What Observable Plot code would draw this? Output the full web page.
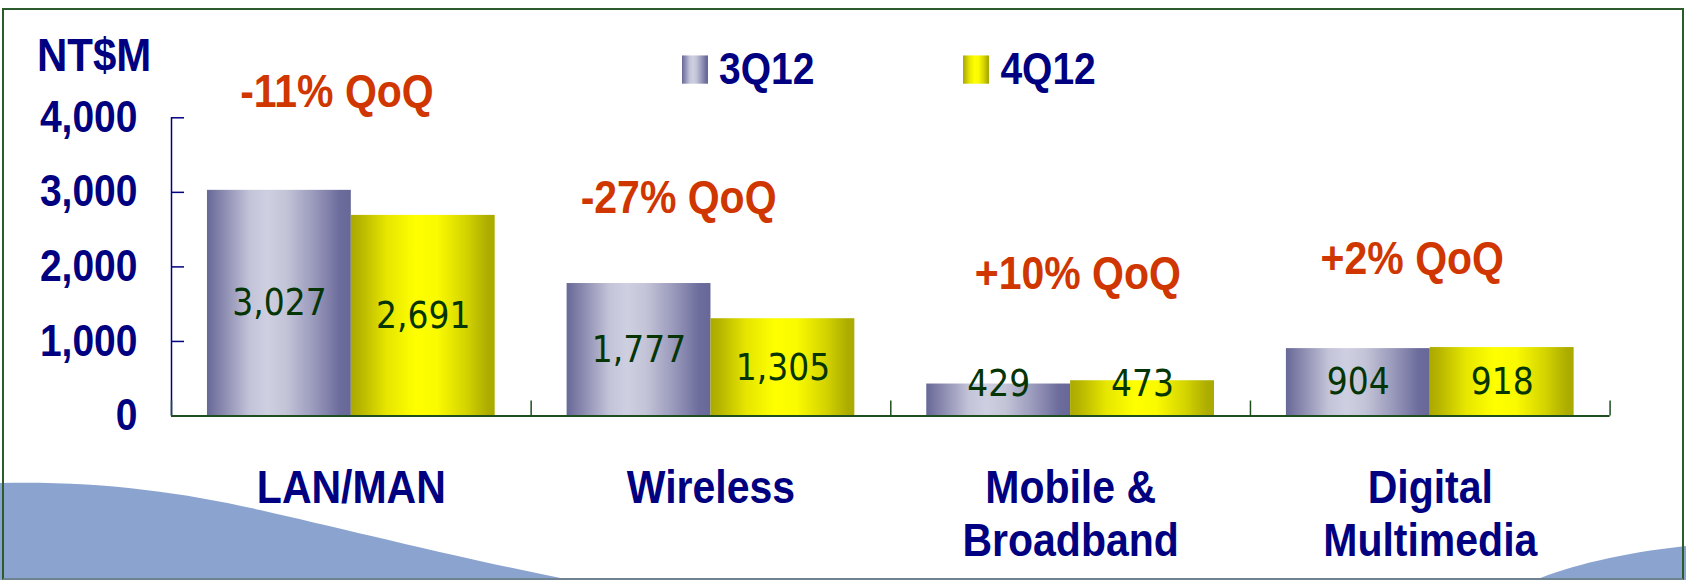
<!DOCTYPE html>
<html>
<head>
<meta charset="utf-8">
<script src="https://cdn.jsdelivr.net/npm/d3@7"></script>
<script src="https://cdn.jsdelivr.net/npm/@observablehq/plot@0.6"></script>
<style>
html, body { margin: 0; padding: 0; background: #fff; }
#wrap { position: relative; width: 1686px; height: 580px; overflow: hidden; background: #fff; }
#bg { position: absolute; left: 0; top: 0; }
#chart { position: absolute; left: 0; top: 0; }
#frame { position: absolute; left: 2px; top: 8px; width: 1682px; height: 572px; box-sizing: border-box;
  border: 2px solid #2c5c2c; border-bottom-color: #6f8290; pointer-events: none; }
#unit { position: absolute; left: 37px; top: 34px; font: bold 42px "Liberation Sans", Arial, sans-serif;
  color: #000080; line-height: 1; white-space: nowrap; transform: scaleY(1.12); transform-origin: 50% 50%; }
#legend { position: absolute; left: 682px; top: 47px; transform: scaleY(1.13); transform-origin: 0 22px; }
#legend .leg-swatches { font: bold 39px "Liberation Sans", Arial, sans-serif; color: #000080; margin: 0; min-height: 0; }
#legend .leg-swatch { margin-right: 149px; }
#legend .leg-swatch > svg { margin-right: 11px; }
</style>
</head>
<body>
<div id="wrap">
  <svg id="bg" width="1686" height="580">
    <defs>
      <linearGradient id="g3q12" x1="0" x2="1" y1="0" y2="0">
        <stop offset="0" stop-color="#686898"/>
        <stop offset="0.1" stop-color="#8686ad"/>
        <stop offset="0.3" stop-color="#c4c4d9"/>
        <stop offset="0.42" stop-color="#cfcfe2"/>
        <stop offset="0.55" stop-color="#c4c4d8"/>
        <stop offset="0.75" stop-color="#9898bb"/>
        <stop offset="0.92" stop-color="#6d6d9d"/>
        <stop offset="1" stop-color="#686898"/>
      </linearGradient>
      <linearGradient id="g4q12" x1="0" x2="1" y1="0" y2="0">
        <stop offset="0" stop-color="#aaaa00"/>
        <stop offset="0.06" stop-color="#b6b400"/>
        <stop offset="0.25" stop-color="#e6e600"/>
        <stop offset="0.45" stop-color="#ffff00"/>
        <stop offset="0.6" stop-color="#fafa00"/>
        <stop offset="0.8" stop-color="#d4d400"/>
        <stop offset="0.95" stop-color="#adad00"/>
        <stop offset="1" stop-color="#aaaa00"/>
      </linearGradient>
    </defs>
    <path d="M0,483 C100,481 180,492 260,510 S450,556 570,580 L0,580 Z" fill="#8ba3cf"/>
    <path d="M1535,580 C1570,566 1620,553 1686,546 L1686,580 Z" fill="#8ba3cf"/>
  </svg>
  <div id="chart"></div>
  <div id="frame"></div>
  <div id="unit"></div>
  <div id="legend"></div>
</div>
<script>
// ---- data ----
const categories = ["LAN/MAN", "Wireless", "Mobile &\nBroadband", "Digital\nMultimedia"];
const series = ["3Q12", "4Q12"];
const values3Q12 = [3027, 1777, 429, 904];
const values4Q12 = [2691, 1305, 473, 918];
const qoqLabels = ["-11% QoQ", "-27% QoQ", "+10% QoQ", "+2% QoQ"];
const qoqAnchorX = [-0.04, 0.91, 2.02, 2.95];   // category index units
const qoqAnchorY = [4346, 2924, 1898, 2099];    // NT$M units
const yTicks = [0, 1000, 2000, 3000, 4000];
const unitLabel = "NT$M";

// ---- tables ----
const rows = categories.flatMap((c, ci) => [
  {ci, si: 0, category: c, series: series[0], value: values3Q12[ci]},
  {ci, si: 1, category: c, series: series[1], value: values4Q12[ci]}
]);
const qoqRows = qoqLabels.map((t, i) => ({text: t, x: qoqAnchorX[i], y: qoqAnchorY[i]}));
const boundaries = d3.range(-0.5, categories.length, 1);
const catIdx = categories.map((c, i) => i);

const NAVY = "#000080", GREEN = "#1f4f1f", LABEL = "#053505", ORANGE = "#cf3600";
const BOLD = "Liberation Sans, Arial, sans-serif";
const fmt = d3.format(",");

const chart = Plot.plot({
  width: 1686,
  height: 580,
  marginLeft: 171,
  marginRight: 76.4,
  marginTop: 117.3,
  marginBottom: 164.5,
  style: {background: "transparent", fontFamily: BOLD, overflow: "visible"},
  x: {domain: [-0.5, categories.length - 0.5], axis: null, label: null},
  y: {domain: [0, 4000], axis: null, label: null},
  color: {domain: series, range: ["url(#g3q12)", "url(#g4q12)"]},
  marks: [
    Plot.rect(rows, {
      x1: d => d.ci + (d.si - 1) * 0.4,
      x2: d => d.ci + d.si * 0.4,
      y1: 0,
      y2: "value",
      fill: "series"
    }),
    Plot.ruleX([-0.5], {y1: 0, y2: 4000, stroke: NAVY, strokeWidth: 1.5}),
    Plot.axisY({
      ticks: yTicks, tickSize: -13, tickPadding: 47, tickFormat: fmt,
      stroke: NAVY, fill: NAVY, strokeWidth: 1.5,
      fontSize: 39, fontWeight: "bold", fontFamily: BOLD, label: null
    }),
    Plot.ruleY([0], {stroke: GREEN, strokeWidth: 2}),
    Plot.axisX({
      ticks: boundaries, tickSize: -15, stroke: GREEN, strokeWidth: 1.5,
      fill: "none", label: null
    }),
    Plot.axisX({
      ticks: catIdx, tickSize: 0, tickPadding: 48.5,
      tickFormat: i => categories[i],
      fill: NAVY, fontSize: 41, fontWeight: "bold", fontFamily: BOLD,
      lineHeight: 1.16, label: null
    }),
    Plot.text(rows, {
      x: d => d.ci + (d.si - 0.5) * 0.4,
      y: d => Math.max(d.value / 2, 436),
      text: d => fmt(d.value),
      fill: LABEL,
      fontSize: 33,
      fontFamily: "DejaVu Sans, Verdana, sans-serif"
    }),
    Plot.text(qoqRows, {
      x: "x", y: "y", text: "text",
      fill: ORANGE, fontSize: 41, fontWeight: "bold", fontFamily: BOLD
    })
  ]
});
document.getElementById("chart").appendChild(chart);

// the original slide's lettering is drawn slightly tall: stretch glyphs vertically about their anchors
const plainNumber = /^\s*-?[\d.]+(e-?\d+)?\s*$/i;
d3.select(chart).selectAll("text").each(function () {
  const el = this;
  const fam = el.getAttribute("font-family") || el.parentNode.getAttribute("font-family") || "";
  const k = /DejaVu/.test(fam) ? 1.15 : 1.13;
  let tx = 0, ty = 0;
  const xa = el.getAttribute("x"), ya = el.getAttribute("y");
  if (xa != null && plainNumber.test(xa)) { tx = +xa; el.removeAttribute("x"); }
  if (ya != null && plainNumber.test(ya)) { ty = +ya; el.removeAttribute("y"); }
  const t = el.getAttribute("transform") || "";
  el.setAttribute("transform", `${t} translate(${tx},${ty}) scale(1,${k})`);
});

const legend = chart.legend("color", {className: "leg", swatchWidth: 26, swatchHeight: 25});
document.getElementById("legend").appendChild(legend);
document.getElementById("unit").textContent = unitLabel;
</script>
</body>
</html>
